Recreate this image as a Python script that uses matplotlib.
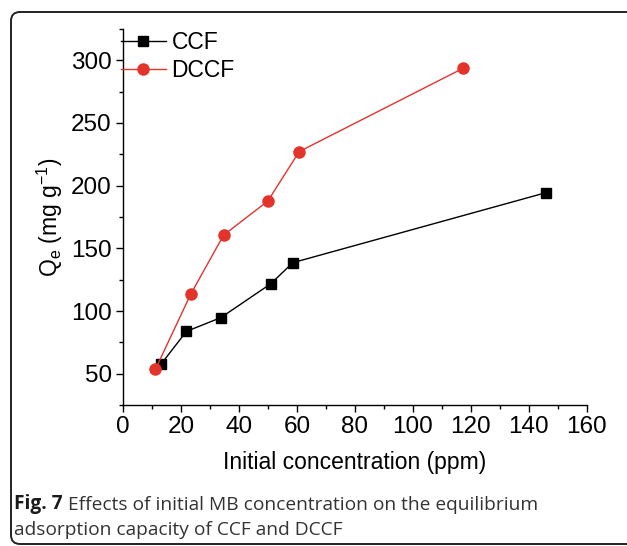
import matplotlib
matplotlib.use("Agg")
import matplotlib.pyplot as plt
import matplotlib.patches as mpatches
from matplotlib.ticker import MultipleLocator

# data
ccf_x = [13.1, 21.9, 33.8, 51.0, 58.6, 146.0]
ccf_y = [57.5, 83.8, 94.8, 121.8, 138.6, 194.5]
dccf_x = [11.2, 23.4, 34.7, 50.0, 60.8, 117.2]
dccf_y = [53.5, 113.5, 160.5, 187.8, 227.2, 293.5]

plt.rcParams['font.family'] = ['Liberation Sans', 'DejaVu Sans']
plt.rcParams['mathtext.fontset'] = 'custom'
plt.rcParams['mathtext.rm'] = 'Liberation Sans'

fig = plt.figure(figsize=(6.27, 5.46), dpi=100)
ax = fig.add_axes([0.196, 0.258, 0.740, 0.689])

red = '#e3342b'
ax.plot(ccf_x, ccf_y, color='black', lw=1.0, marker='s', markersize=7, label='CCF')
ax.plot(dccf_x, dccf_y, color=red, lw=1.0, marker='o', markersize=8, label='DCCF')

ax.set_xlim(0, 160)
ax.set_ylim(25, 325)
ax.xaxis.set_major_locator(MultipleLocator(20))
ax.xaxis.set_minor_locator(MultipleLocator(10))
ax.yaxis.set_minor_locator(MultipleLocator(25))
ax.set_yticks([50, 100, 150, 200, 250, 300])
ax.tick_params(which='major', direction='out', length=5, width=1, labelsize=17.5, pad=3)
ax.tick_params(which='minor', direction='out', length=3, width=1)
for s in ['top', 'right']:
    ax.spines[s].set_visible(False)
for s in ['left', 'bottom']:
    ax.spines[s].set_linewidth(1.0)

ax.set_xlabel('Initial concentration (ppm)', fontsize=16.5, labelpad=9)
ax.set_ylabel(r'Q$_\mathregular{e}$ (mg g$^\mathregular{-1}$)', fontsize=16.5, labelpad=4)

ax.legend(loc='upper left', bbox_to_anchor=(121 / 627, 1 - 31 / 546),
          bbox_transform=fig.transFigure, frameon=False, fontsize=16.5,
          handlelength=1.95, handletextpad=0.25, labelspacing=0.22,
          borderaxespad=0, borderpad=0)

# caption: bold lead-in then regular text
cap_kw = dict(fontsize=13.8, va='bottom', family='Open Sans')
t1 = fig.text(14 / 627, 1 - 514 / 546, 'Fig. 7', fontweight='bold', color='#1a1a1a', **cap_kw)
ax.annotate('Effects of initial MB concentration on the equilibrium',
            xy=(1, 0), xycoords=t1, xytext=(4, 0), textcoords='offset points',
            ha='left', color='#333333', annotation_clip=False, **cap_kw)
fig.text(14 / 627, 1 - 539 / 546, 'adsorption capacity of CCF and DCCF',
         color='#333333', **cap_kw)

# rounded frame open on the right
frame = mpatches.FancyBboxPatch((11, 2), 660, 532,
                                boxstyle='round,pad=0,rounding_size=9',
                                transform=None, fill=False, lw=1.4, ec='#222222')
fig.add_artist(frame)

fig.savefig('out.png', dpi=100)
